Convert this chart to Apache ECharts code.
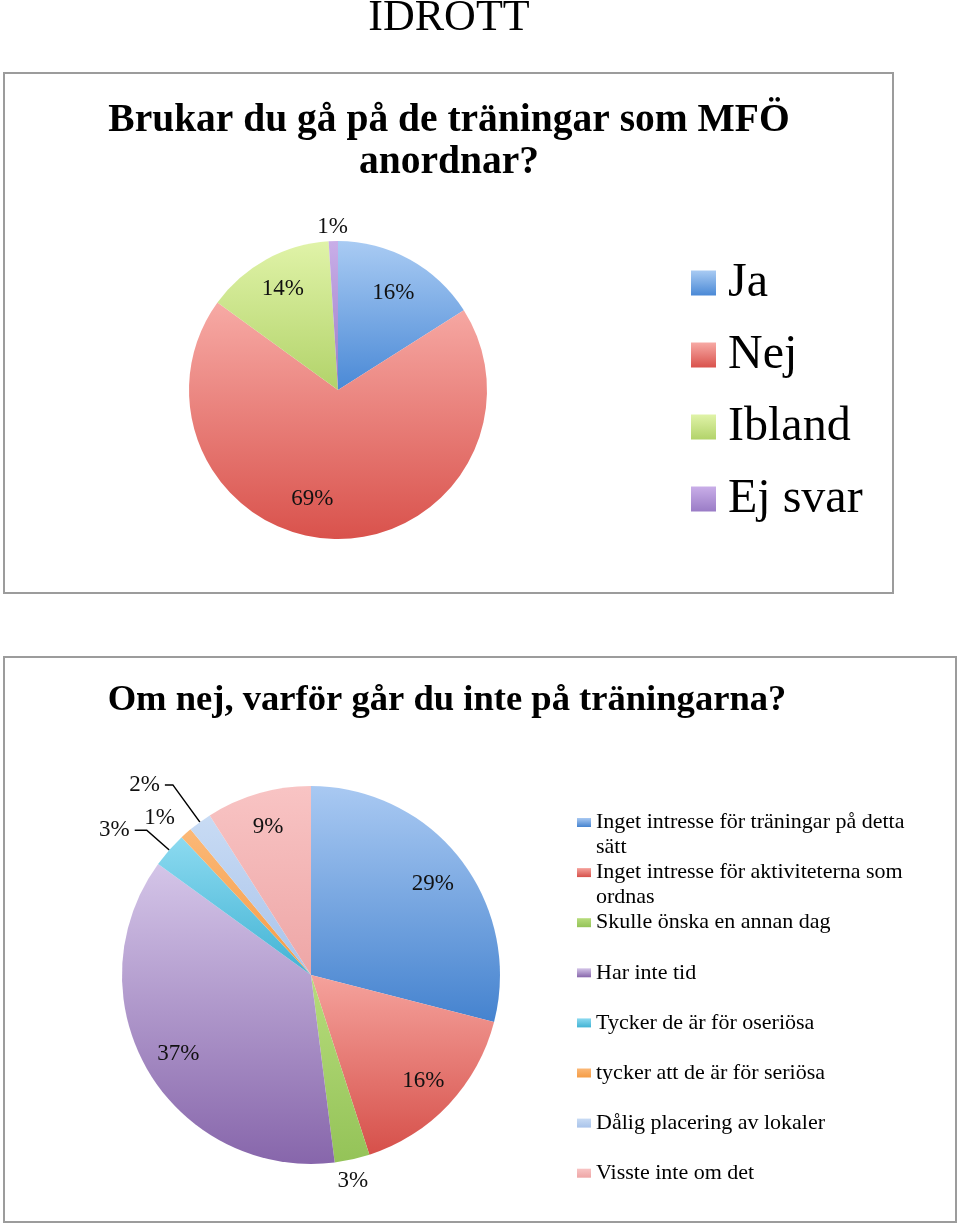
<!DOCTYPE html>
<html>
<head>
<meta charset="utf-8">
<script src="https://cdn.jsdelivr.net/npm/echarts@6/dist/echarts.min.js"></script>
<style>
  html, body { margin: 0; padding: 0; background: #fff; }
  #chart { width: 960px; height: 1224px; }
</style>
</head>
<body>
<div id="chart"></div>
<script>
// ---- data ----
const pageTitle = 'IDROTT';
const topTitle = 'Brukar du gå på de träningar som MFÖ\nanordnar?';
const topCategories = ['Ja', 'Nej', 'Ibland', 'Ej svar'];
const topValues = [16, 69, 14, 1];

const bottomTitle = 'Om nej, varför går du inte på träningarna?';
const bottomCategories = [
  'Inget intresse för träningar på detta sätt',
  'Inget intresse för aktiviteterna som ordnas',
  'Skulle önska en annan dag',
  'Har inte tid',
  'Tycker de är för oseriösa',
  'tycker att de är för seriösa',
  'Dålig placering av lokaler',
  'Visste inte om det'
];
const bottomValues = [29, 16, 3, 37, 3, 1, 2, 9];

// ---- styles ----
const SERIF = '"Liberation Serif", "Times New Roman", serif';
function grad(a, b) {
  return new echarts.graphic.LinearGradient(0, 0, 0, 1, [
    { offset: 0, color: a }, { offset: 1, color: b }
  ]);
}
const topColors = [
  ['#a9cbf3', '#4a89d6'],
  ['#f7aaa5', '#d9524c'],
  ['#e0f3a8', '#b2d36a'],
  ['#c9aee8', '#9a7cc6']
];
const bottomColors = [
  ['#a9c9f2', '#4583cf'],
  ['#f5a29c', '#d6504a'],
  ['#b7dc7c', '#94c358'],
  ['#d4c5e8', '#8766ab'],
  ['#8cdaf0', '#42b3d4'],
  ['#fbb877', '#f59c45'],
  ['#c8dbf4', '#a9c3ea'],
  ['#f8c4c4', '#eea6a6']
];

// outside-label settings (index -> label line lengths)
const topOutside = { 3: { show: false, length: 14, length2: 0 } };
const bottomOutside = {
  2: { show: false, length: 20, length2: 0 },
  4: { show: true, length: 30, length2: 12 },
  5: { show: false, length: 20, length2: 0 },
  6: { show: true, length: 46, length2: 8 }
};
// small label nudges (index -> [dx, dy])
const topNudge = { 0: [0, 4], 1: [-22, -6], 3: [20, 0] };
const bottomNudge = { 0: [0, 3], 2: [-24, 2], 5: [7, 0] };

const TOP = { cx: 338, cy: 390, r: 149 };
const BOT = { cx: 311, cy: 975, r: 189 };

function sliceData(names, values, colors) {
  return names.map((n, i) => ({
    name: n, value: values[i],
    itemStyle: { color: grad(colors[i][0], colors[i][1]) }
  }));
}
function labelData(names, values, outside) {
  return names.map((n, i) => {
    const d = { name: n, value: values[i] };
    if (outside[i]) {
      d.label = { position: 'outside' };
      d.labelLine = {
        show: outside[i].show,
        length: outside[i].length,
        length2: outside[i].length2,
        smooth: false,
        lineStyle: { color: '#000', width: 1.5 }
      };
    }
    return d;
  });
}
function nudger(map) {
  return function (params) {
    const t = map[params.dataIndex];
    return t ? { dx: t[0], dy: t[1] } : {};
  };
}

const labelStyle = {
  show: true, position: 'inside', formatter: '{c}%',
  color: '#111', fontFamily: SERIF, fontSize: 23
};

// word-wrap legend names to a width (greedy, by measured text width)
const mctx = document.createElement('canvas').getContext('2d');
mctx.font = '22px ' + SERIF;
const LEG_W = 330;
function wrapLines(name) {
  const words = name.split(' ');
  const lines = [];
  let cur = '';
  words.forEach(w => {
    const t = cur ? cur + ' ' + w : w;
    if (cur && mctx.measureText(t).width > LEG_W) { lines.push(cur); cur = w; }
    else cur = t;
  });
  lines.push(cur);
  return lines;
}

const bottomLegends = bottomCategories.map((name, i) => {
  const lines = wrapLines(name);
  const wraps = lines.length > 1;
  const center = 822.5 + 50.1 * i;
  return {
    data: [name], orient: 'vertical', left: 577,
    top: wraps ? center - 37.5 : center - 12.5,
    icon: 'rect', itemWidth: 14, itemHeight: 9, padding: 0,
    selectedMode: false,
    formatter: () => (wraps ? '\n' : '') + lines.join('\n'),
    textStyle: {
      fontFamily: SERIF, fontSize: 22, lineHeight: 25, color: '#000'
    }
  };
});

const chart = echarts.init(document.getElementById('chart'), null, { renderer: 'canvas' });
chart.setOption({
  backgroundColor: '#fff',
  animation: false,
  graphic: [
    { type: 'rect', shape: { x: 4, y: 73, width: 889, height: 520 },
      style: { fill: 'none', stroke: '#9c9c9c', lineWidth: 2 }, silent: true },
    { type: 'rect', shape: { x: 4, y: 657, width: 952, height: 565 },
      style: { fill: 'none', stroke: '#9c9c9c', lineWidth: 2 }, silent: true },
    { type: 'text', x: 449, y: 18, silent: true,
      style: { text: pageTitle, fontFamily: SERIF, fontSize: 44, fill: '#000',
        textAlign: 'center', textVerticalAlign: 'middle' } },
    { type: 'text', x: 449, y: 142, silent: true,
      style: { text: topTitle, fontFamily: SERIF, fontWeight: 'bold', fontSize: 39.5,
        lineHeight: 42, fill: '#000', textAlign: 'center', textVerticalAlign: 'middle' } },
    { type: 'text', x: 447, y: 701, silent: true,
      style: { text: bottomTitle, fontFamily: SERIF, fontWeight: 'bold', fontSize: 36.6,
        fill: '#000', textAlign: 'center', textVerticalAlign: 'middle' } }
  ],
  legend: [
    {
      data: topCategories, orient: 'vertical', left: 691, top: 259,
      icon: 'rect', itemWidth: 25, itemHeight: 25, itemGap: 24, padding: 0,
      selectedMode: false,
      textStyle: { fontFamily: SERIF, fontSize: 48, lineHeight: 48, color: '#000',
        padding: [0, 0, 0, 7] }
    }
  ].concat(bottomLegends),
  series: [
    {
      type: 'pie', center: [TOP.cx, TOP.cy], radius: TOP.r,
      startAngle: 90, clockwise: true, avoidLabelOverlap: false,
      label: { show: false }, labelLine: { show: false },
      emphasis: { scale: false },
      data: sliceData(topCategories, topValues, topColors)
    },
    {
      type: 'pie', center: [TOP.cx, TOP.cy], radius: [TOP.r * 0.5, TOP.r],
      startAngle: 90, clockwise: true, avoidLabelOverlap: false, silent: true,
      itemStyle: { color: 'rgba(0,0,0,0)' },
      label: labelStyle,
      labelLayout: nudger(topNudge),
      data: labelData(topCategories, topValues, topOutside)
    },
    {
      type: 'pie', center: [BOT.cx, BOT.cy], radius: BOT.r,
      startAngle: 90, clockwise: true, avoidLabelOverlap: false,
      label: { show: false }, labelLine: { show: false },
      emphasis: { scale: false },
      data: sliceData(bottomCategories, bottomValues, bottomColors)
    },
    {
      type: 'pie', center: [BOT.cx, BOT.cy], radius: [BOT.r * 0.6, BOT.r],
      startAngle: 90, clockwise: true, avoidLabelOverlap: false, silent: true,
      itemStyle: { color: 'rgba(0,0,0,0)' },
      label: labelStyle,
      labelLayout: nudger(bottomNudge),
      data: labelData(bottomCategories, bottomValues, bottomOutside)
    }
  ]
});
</script>
</body>
</html>
